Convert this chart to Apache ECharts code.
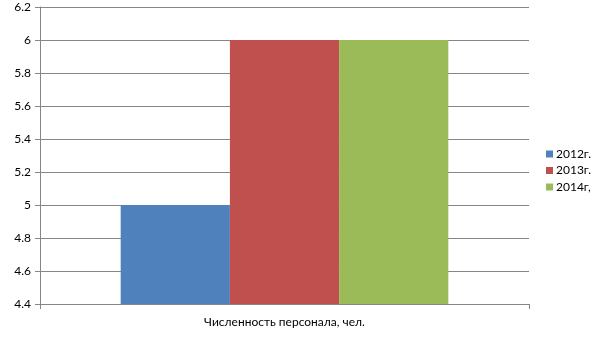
<!DOCTYPE html>
<html>
<head>
<meta charset="utf-8">
<script src="https://cdn.jsdelivr.net/npm/echarts@6/dist/echarts.min.js"></script>
<style>html,body{margin:0;padding:0;background:#fff}#c{width:605px;height:340px}</style>
</head>
<body>
<div id="c"></div>
<script>
var categories = ['Численность персонала, чел.'];
var seriesNames = ['2012г.', '2013г.', '2014г,'];
var values2012 = [5];
var values2013 = [6];
var values2014 = [6];
var colors = ['#4F81BD', '#C0504D', '#9BBB59'];

var chart = echarts.init(document.getElementById('c'));
var font = 'Lato, "Open Sans", sans-serif';
var gray = '#868686';
chart.setOption({
  animation: false,
  textStyle: {fontFamily: font},
  grid: {left: 40, right: 76, top: 7, bottom: 36},
  legend: {
    orient: 'vertical', left: 541, top: 143,
    itemWidth: 7, itemHeight: 7, itemGap: 4.5,
    icon: 'rect',
    textStyle: {fontSize: 12, color: '#000', fontFamily: font, padding: [0, 0, 0, -2]},
    data: seriesNames
  },
  xAxis: {
    type: 'category', data: categories,
    axisLine: {lineStyle: {color: gray}},
    axisTick: {show: true, length: 5, lineStyle: {color: gray}},
    axisLabel: {color: '#000', fontSize: 12, margin: 12, fontFamily: font}
  },
  yAxis: {
    type: 'value', min: 4.4, max: 6.2, interval: 0.2,
    axisLine: {show: true, lineStyle: {color: gray}},
    axisTick: {show: true, length: 5, lineStyle: {color: gray}},
    splitLine: {lineStyle: {color: gray}},
    axisLabel: {color: '#000', fontSize: 12, margin: 9, fontFamily: font,
      formatter: function(v){ return String(Math.round(v*10)/10); }}
  },
  series: [
    {name: seriesNames[0], type: 'bar', data: values2012, itemStyle: {color: colors[0]}, barGap: '0%', barCategoryGap: '33%'},
    {name: seriesNames[1], type: 'bar', data: values2013, itemStyle: {color: colors[1]}, barGap: '0%', barCategoryGap: '33%'},
    {name: seriesNames[2], type: 'bar', data: values2014, itemStyle: {color: colors[2]}, barGap: '0%', barCategoryGap: '33%'}
  ]
});
</script>
</body>
</html>
